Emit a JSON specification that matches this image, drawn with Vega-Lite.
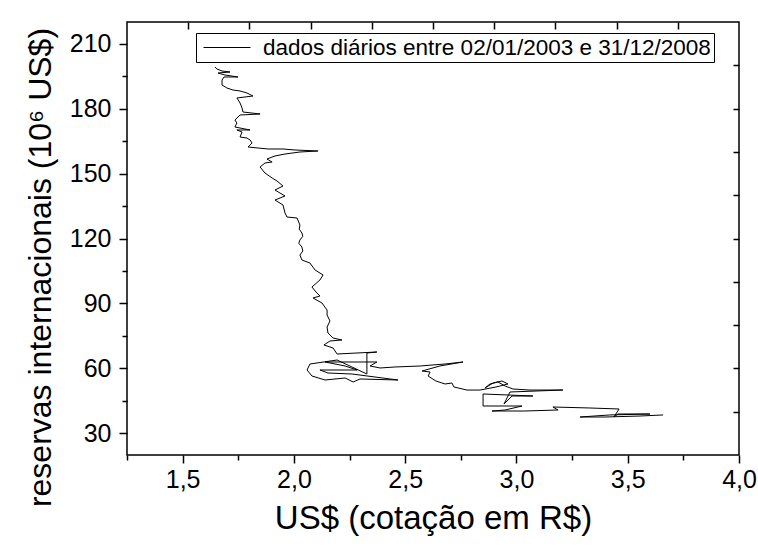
{
  "$schema": "https://vega.github.io/schema/vega-lite/v6.json",
  "width": 612,
  "height": 433,
  "autosize": {"type": "none"},
  "padding": {"left": 127, "top": 22, "right": 19, "bottom": 92},
  "background": "white",
  "config": {
    "view": {"stroke": "black", "strokeWidth": 1.5},
    "font": "Liberation Sans",
    "axis": {
      "domain": false, "grid": false, "tickColor": "black", "tickWidth": 1.5,
      "labelColor": "black", "labelFont": "Liberation Sans", "labelFontSize": 25,
      "titleFont": "Liberation Sans", "titleFontSize": 32, "titleFontWeight": "normal", "titleColor": "black"
    }
  },
  "data": {"values": [
    {"i":1,"x":3.659,"y":38.5},{"i":2,"x":3.555,"y":38.0},{"i":3,"x":3.398,"y":37.55},{"i":4,"x":3.286,"y":37.55},
    {"i":5,"x":3.42,"y":38.5},{"i":6,"x":3.6,"y":38.94},{"i":7,"x":3.456,"y":38.94},{"i":8,"x":3.438,"y":37.55},
    {"i":9,"x":3.461,"y":41.25},{"i":10,"x":3.33,"y":41.71},{"i":11,"x":3.164,"y":42.17},{"i":12,"x":3.187,"y":40.79},
    {"i":13,"x":3.038,"y":40.32},{"i":14,"x":2.89,"y":40.32},{"i":15,"x":2.949,"y":40.79},{"i":16,"x":3.025,"y":42.63},
    {"i":17,"x":2.85,"y":42.63},{"i":18,"x":2.85,"y":48.18},{"i":19,"x":3.074,"y":47.25},{"i":20,"x":2.98,"y":47.25},
    {"i":21,"x":2.944,"y":43.56},{"i":22,"x":2.971,"y":49.1},{"i":23,"x":3.209,"y":50.02},{"i":24,"x":3.061,"y":50.0},
    {"i":25,"x":2.984,"y":50.49},{"i":26,"x":2.949,"y":51.87},{"i":27,"x":2.917,"y":53.72},{"i":28,"x":2.881,"y":52.8},
    {"i":29,"x":2.859,"y":50.95},{"i":30,"x":2.895,"y":53.26},{"i":31,"x":2.935,"y":54.18},{"i":32,"x":2.962,"y":52.8},
    {"i":33,"x":2.908,"y":51.41},{"i":34,"x":2.836,"y":50.0},{"i":35,"x":2.778,"y":50.0},{"i":36,"x":2.719,"y":51.41},
    {"i":37,"x":2.71,"y":53.26},{"i":38,"x":2.679,"y":52.8},{"i":39,"x":2.638,"y":54.18},{"i":40,"x":2.603,"y":56.49},
    {"i":41,"x":2.612,"y":58.34},{"i":42,"x":2.576,"y":58.8},{"i":43,"x":2.656,"y":61.11},{"i":44,"x":2.76,"y":62.96},
    {"i":45,"x":2.679,"y":62.03},{"i":46,"x":2.567,"y":61.11},{"i":47,"x":2.454,"y":60.65},{"i":48,"x":2.387,"y":60.19},
    {"i":49,"x":2.342,"y":61.11},{"i":50,"x":2.373,"y":62.96},{"i":51,"x":2.14,"y":62.96},{"i":52,"x":2.23,"y":61.11},
    {"i":53,"x":2.284,"y":59.26},{"i":54,"x":2.117,"y":59.26},{"i":55,"x":2.153,"y":57.88},{"i":56,"x":2.261,"y":57.41},
    {"i":57,"x":2.468,"y":54.64},{"i":58,"x":2.297,"y":55.11},{"i":59,"x":2.266,"y":53.72},{"i":60,"x":2.23,"y":55.57},
    {"i":61,"x":2.14,"y":54.64},{"i":62,"x":2.081,"y":56.49},{"i":63,"x":2.059,"y":59.26},{"i":64,"x":2.072,"y":62.03},
    {"i":65,"x":2.194,"y":63.88},{"i":66,"x":2.328,"y":57.41},{"i":67,"x":2.328,"y":67.11},{"i":68,"x":2.373,"y":67.58},
    {"i":69,"x":2.194,"y":66.65},{"i":70,"x":2.176,"y":69.42},{"i":71,"x":2.135,"y":70.81},{"i":72,"x":2.162,"y":72.66},
    {"i":73,"x":2.216,"y":73.12},{"i":74,"x":2.176,"y":74.04},{"i":75,"x":2.153,"y":76.35},{"i":76,"x":2.149,"y":79.12},
    {"i":77,"x":2.162,"y":81.9},{"i":78,"x":2.149,"y":84.67},{"i":79,"x":2.149,"y":86.98},{"i":80,"x":2.126,"y":90.21},
    {"i":81,"x":2.086,"y":92.52},{"i":82,"x":2.117,"y":93.44},{"i":83,"x":2.099,"y":95.29},{"i":84,"x":2.081,"y":97.6},
    {"i":85,"x":2.117,"y":100.83},{"i":86,"x":2.131,"y":103.14},{"i":87,"x":2.095,"y":105.45},{"i":88,"x":2.072,"y":108.68},
    {"i":89,"x":2.036,"y":110.07},{"i":90,"x":2.027,"y":112.38},{"i":90.5,"x":2.04,"y":114.2},{"i":91,"x":2.036,"y":116.07},{"i":91.5,"x":2.022,"y":117.8},{"i":92,"x":2.027,"y":119.31},
    {"i":92.5,"x":2.04,"y":121.0},{"i":93,"x":2.036,"y":122.54},{"i":93.5,"x":2.024,"y":124.3},{"i":94,"x":2.027,"y":126.24},{"i":95,"x":2.014,"y":129.47},{"i":96,"x":1.969,"y":129.93},
    {"i":97,"x":1.96,"y":131.78},{"i":98,"x":1.951,"y":135.47},{"i":99,"x":1.915,"y":137.78},{"i":100,"x":1.96,"y":139.63},
    {"i":101,"x":1.915,"y":142.4},{"i":102,"x":1.951,"y":144.25},{"i":103,"x":1.924,"y":146.56},{"i":104,"x":1.902,"y":147.95},
    {"i":105,"x":1.87,"y":150.25},{"i":106,"x":1.848,"y":153.03},{"i":107,"x":1.87,"y":154.87},{"i":108,"x":1.902,"y":155.34},
    {"i":109,"x":1.879,"y":156.72},{"i":110,"x":1.915,"y":158.11},{"i":111,"x":1.96,"y":159.03},{"i":112,"x":2.027,"y":159.95},
    {"i":113,"x":2.108,"y":160.42},{"i":114,"x":2.005,"y":160.88},{"i":115,"x":1.951,"y":161.34},{"i":116,"x":1.884,"y":161.34},
    {"i":117,"x":1.839,"y":161.8},{"i":118,"x":1.794,"y":162.26},{"i":119,"x":1.812,"y":164.11},{"i":120,"x":1.803,"y":165.5},
    {"i":121,"x":1.789,"y":166.42},{"i":122,"x":1.758,"y":166.88},{"i":123,"x":1.767,"y":169.19},{"i":124,"x":1.744,"y":170.12},
    {"i":125,"x":1.803,"y":170.12},{"i":126,"x":1.735,"y":171.5},{"i":127,"x":1.744,"y":173.35},{"i":128,"x":1.735,"y":174.73},
    {"i":129,"x":1.758,"y":177.04},{"i":130,"x":1.848,"y":177.51},{"i":131,"x":1.771,"y":178.43},{"i":132,"x":1.767,"y":180.28},
    {"i":133,"x":1.758,"y":182.59},{"i":134,"x":1.744,"y":184.9},{"i":135,"x":1.78,"y":185.36},{"i":136,"x":1.816,"y":185.82},
    {"i":137,"x":1.789,"y":187.21},{"i":138,"x":1.758,"y":188.13},{"i":139,"x":1.726,"y":188.59},{"i":140,"x":1.699,"y":189.52},
    {"i":141,"x":1.677,"y":190.9},{"i":142,"x":1.677,"y":193.21},{"i":143,"x":1.686,"y":194.6},{"i":144,"x":1.749,"y":194.6},
    {"i":145,"x":1.69,"y":195.52},{"i":146,"x":1.659,"y":196.44},{"i":147,"x":1.713,"y":196.91},{"i":148,"x":1.677,"y":197.37},
    {"i":149,"x":1.654,"y":198.29},{"i":150,"x":1.645,"y":199.22}
  ]},
  "layer": [
    {
      "mark": {"type": "line", "strokeWidth": 1},
      "encoding": {
        "x": {"field": "x", "type": "quantitative", "scale": {"domain": [1.25, 4], "nice": false, "zero": false},
          "axis": {"orient": "bottom", "values": [1.5, 2, 2.5, 3, 3.5, 4], "tickSize": 8, "labelPadding": 4,
            "labelExpr": "replace(format(datum.value, '.1f'), '.', ',')", "labelFlush": false, "labelOverlap": false,
            "title": "US$ (cotação em R$)", "titlePadding": 10, "titleFontSize": 33}},
        "y": {"field": "y", "type": "quantitative", "scale": {"domain": [20, 220], "nice": false, "zero": false},
          "axis": {"orient": "left", "values": [30, 60, 90, 120, 150, 180, 210], "tickSize": 8, "labelPadding": 8, "format": "d",
            "labelFlush": false, "labelOverlap": false,
            "title": "reservas internacionais (10⁶ US$)", "titlePadding": 12, "titleY": 245}},
        "order": {"field": "i", "type": "quantitative"},
        "color": {"datum": "dados diários entre 02/01/2003 e 31/12/2008", "type": "nominal",
          "scale": {"range": ["black"]},
          "legend": {"title": null, "orient": "none", "legendX": 69, "legendY": 11, "strokeColor": "black",
            "padding": 3, "symbolType": "M-2.136,0H2.136", "symbolSize": 484, "symbolStrokeWidth": 1, "symbolOffset": 16.5,
            "symbolStrokeColor": "black", "symbolFillColor": "transparent",
            "labelOffset": 24.5, "labelFontSize": 22.5, "labelFont": "Liberation Sans", "labelColor": "black", "labelLimit": 0,
            "cornerRadius": 0, "fillColor": "white"}}
      }
    },
    {
      "mark": {"type": "line", "strokeOpacity": 0},
      "encoding": {
        "x": {"field": "x", "type": "quantitative", "axis": {"orient": "bottom", "values": [1.25, 1.75, 2.25, 2.75, 3.25, 3.75], "labels": false, "tickSize": 5, "title": null}},
        "y": {"field": "y", "type": "quantitative", "axis": {"orient": "left", "values": [45, 75, 105, 135, 165, 195], "labels": false, "tickSize": 5, "title": null}},
        "order": {"field": "i", "type": "quantitative"}
      }
    },
    {
      "mark": {"type": "line", "strokeOpacity": 0},
      "encoding": {
        "x": {"field": "x", "type": "quantitative", "axis": {"orient": "top", "values": [1.525, 1.8, 2.075, 2.35, 2.625, 2.9, 3.175, 3.45, 3.725], "labels": false, "tickSize": -7, "title": null}},
        "y": {"field": "y", "type": "quantitative", "axis": {"orient": "right", "values": [40, 60, 80, 100, 120, 140, 160, 180, 200], "labels": false, "tickSize": -6, "title": null}},
        "order": {"field": "i", "type": "quantitative"}
      }
    }
  ],
  "resolve": {"axis": {"x": "independent", "y": "independent"}}
}
